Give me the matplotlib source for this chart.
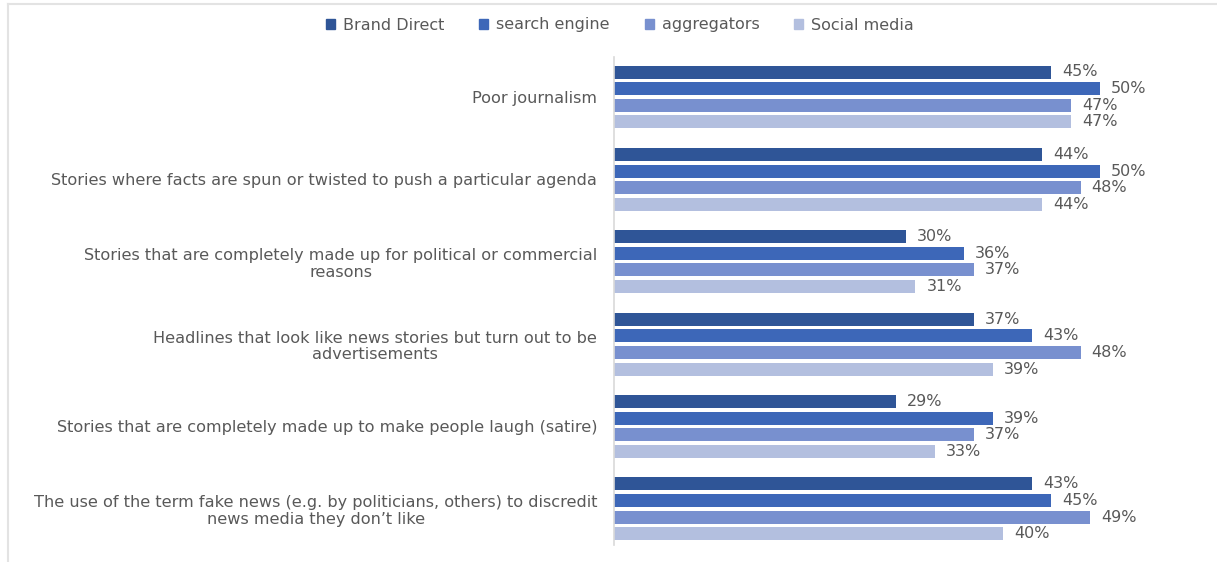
import matplotlib
matplotlib.use("Agg")
import matplotlib.pyplot as plt
from matplotlib.lines import Line2D

plt.rcParams['font.family'] = ['DejaVu Sans']

categories = [
    "Poor journalism",
    "Stories where facts are spun or twisted to push a particular agenda",
    "Stories that are completely made up for political or commercial\nreasons",
    "Headlines that look like news stories but turn out to be\nadvertisements",
    "Stories that are completely made up to make people laugh (satire)",
    "The use of the term fake news (e.g. by politicians, others) to discredit\nnews media they don\u2019t like",
]
series_names = ["Brand Direct", "search engine", "aggregators", "Social media"]
brand_direct = [45, 44, 30, 37, 29, 43]
search_engine = [50, 50, 36, 43, 39, 45]
aggregators = [47, 48, 37, 48, 37, 49]
social_media = [47, 44, 31, 39, 33, 40]
series_values = [brand_direct, search_engine, aggregators, social_media]
colors = ["#2f5597", "#3d67b8", "#7890cf", "#b3bfdf"]
text_color = "#595959"

W, H = 1217, 562
fig = plt.figure(figsize=(W / 100, H / 100), dpi=100)
fig.patch.set_facecolor("white")

# faint frame along the top and left edges
fig.add_artist(Line2D([7.5 / W, 7.5 / W], [0, 1 - 4 / H], color="#e3e3e3", lw=1.5))
fig.add_artist(Line2D([7.5 / W, 1], [1 - 4 / H, 1 - 4 / H], color="#e3e3e3", lw=1.5))

ax_left, ax_right = 614, 1197
ax_top, ax_bottom = 57, 545
ax = fig.add_axes([ax_left / W, 1 - ax_bottom / H, (ax_right - ax_left) / W,
                   (ax_bottom - ax_top) / H])

n_cat = len(categories)
group_gap = 82.4
bar_step = 16.6
bar_h = 13.0
y0 = 72.0
for s, (vals, col) in enumerate(zip(series_values, colors)):
    ys = [y0 + i * group_gap + s * bar_step for i in range(n_cat)]
    ax.barh(ys, vals, height=bar_h, color=col, label=series_names[s], zorder=2)
    for y, v in zip(ys, vals):
        ax.annotate(f"{v}%", xy=(v, y), xytext=(8, 0), textcoords="offset points",
                    va="center", ha="left", fontsize=11.5, color=text_color)

ax.set_xlim(0, (ax_right - ax_left) / 9.72)
ax.set_ylim(ax_bottom, ax_top)
ax.set_xticks([])
centers = [y0 + i * group_gap + 1.5 * bar_step for i in range(n_cat)]
ax.set_yticks(centers)
ax.set_yticklabels(categories, fontsize=11.6, color=text_color, linespacing=1.15)
for lbl in ax.get_yticklabels():
    lbl.set_multialignment("center")
ax.tick_params(axis="y", length=0, pad=12)

for side in ["top", "right", "bottom"]:
    ax.spines[side].set_visible(False)
ax.spines["left"].set_color("#d9d9d9")
ax.spines["left"].set_linewidth(1.2)

handles = [plt.Rectangle((0, 0), 1, 1, color=c) for c in colors]
fig.legend(handles, series_names, loc="center", bbox_to_anchor=(620 / W, 1 - 25 / H),
           ncol=4, frameon=False, fontsize=11.5, handlelength=0.55, handleheight=0.55,
           handletextpad=0.5, columnspacing=2.2, labelcolor=text_color)

fig.savefig("out.png", dpi=100, facecolor="white")
